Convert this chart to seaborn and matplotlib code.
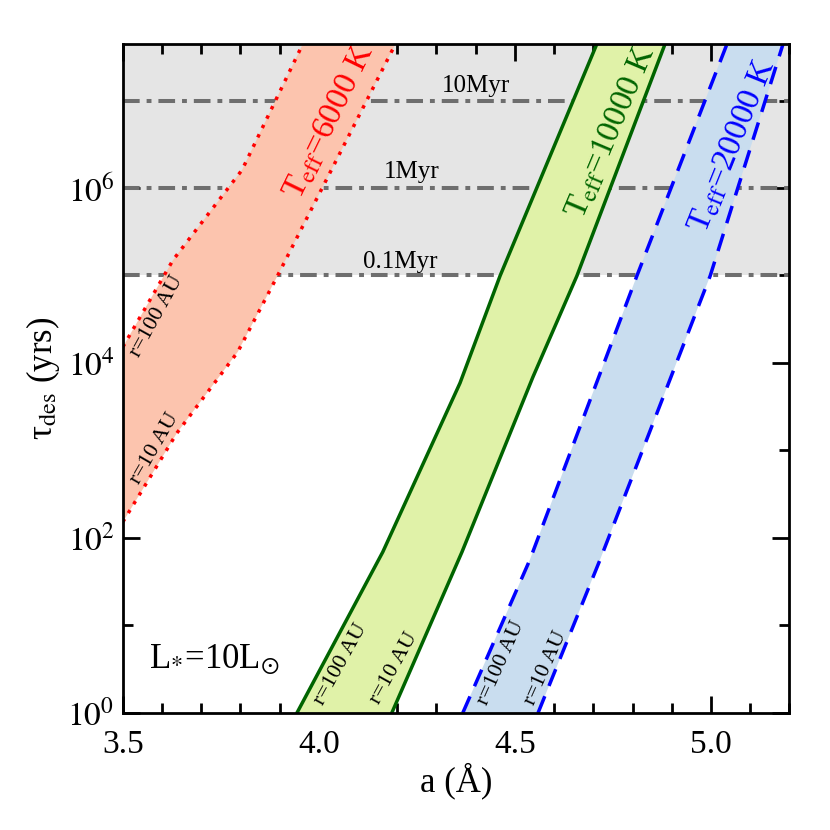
#%% IMPORTS
import numpy as np
import pandas as pd
import seaborn as sns
import matplotlib
matplotlib.use("Agg")
from matplotlib import pyplot as plt
from matplotlib.ticker import FixedLocator, NullFormatter

#%% DATA
# boundaries of each band: lattice constant a (Angstrom) vs log10(tau_des / yr)
red_r100_a   = [3.500, 3.628, 3.804, 3.959]
red_r100_lt  = [4.183, 5.177, 6.206, 7.646]
red_r10_a    = [3.500, 3.638, 3.793, 3.893, 4.194]
red_r10_lt   = [2.183, 3.200, 4.126, 4.983, 7.634]

green_r100_a  = [3.944, 4.163, 4.360, 4.462, 4.709]
green_r100_lt = [0.000, 1.840, 3.771, 4.994, 7.646]
green_r10_a   = [4.186, 4.365, 4.546, 4.658, 4.883]
green_r10_lt  = [0.000, 1.840, 3.840, 4.994, 7.646]

blue_r100_a  = [4.367, 4.538, 4.811, 5.041]
blue_r100_lt = [0.000, 1.749, 4.994, 7.646]
blue_r10_a   = [4.559, 4.717, 4.998, 5.184]
blue_r10_lt  = [0.000, 1.749, 4.994, 7.646]

age_lines  = [1e5, 1e6, 1e7]
age_labels = ["0.1Myr", "1Myr", "10Myr"]

x_ticks = [3.5, 4.0, 4.5, 5.0]
x_tick_labels = ["3.5", "4.0", "4.5", "5.0"]
y_major = [1e0, 1e2, 1e4, 1e6]
y_major_labels = [r"$10^0$", r"$10^2$", r"$10^4$", r"$10^6$"]
y_minor = [1e1, 1e3, 1e5, 1e7]

#%% CONFIGURATION
sns.set_theme(style="ticks")
plt.rcParams["font.family"] = ["Liberation Serif", "DejaVu Serif"]
plt.rcParams["mathtext.fontset"] = "stix"
plt.rcParams["lines.scale_dashes"] = False
for key in ("text.color", "axes.labelcolor", "xtick.color", "ytick.color", "axes.edgecolor"):
    plt.rcParams[key] = "black"

YMAX = 10 ** 7.646


def band_frame(a, lt):
    return pd.DataFrame({"a": a, "tau": 10 ** np.asarray(lt)})


def draw_band(ax, left, right, fill, color, lw, dashes=None):
    xs = list(left["a"]) + list(right["a"][::-1])
    ys = list(left["tau"]) + list(right["tau"][::-1])
    ax.fill(xs, ys, color=fill, lw=0, zorder=2)
    for df in (left, right):
        sns.lineplot(data=df, x="a", y="tau", ax=ax, sort=False, estimator=None,
                     color=color, lw=lw, zorder=3, legend=False)
        l = ax.lines[-1]
        if dashes is not None:
            l.set_dashes(dashes)
            l.set_dash_capstyle("butt")


#%% MAIN CODE
fig = plt.figure(figsize=(8.3, 8.3), dpi=100)
ax = fig.add_axes([0.148, 0.141, 0.803, 0.806])

ax.set_yscale("log")

# grey region above 0.1 Myr
ax.axhspan(1e5, YMAX, color="#e5e5e5", lw=0, zorder=0)
for yv in age_lines:
    ax.axhline(yv, color="#6e6e6e", lw=2.9, dashes=[12, 5, 3.5, 5], zorder=1)

red_l = band_frame(red_r100_a, red_r100_lt)
red_r = band_frame(red_r10_a, red_r10_lt)
green_l = band_frame(green_r100_a, green_r100_lt)
green_r = band_frame(green_r10_a, green_r10_lt)
blue_l = band_frame(blue_r100_a, blue_r100_lt)
blue_r = band_frame(blue_r10_a, blue_r10_lt)

draw_band(ax, red_l, red_r, "#fcc4ae", "red", 2.5, dashes=[2.5, 5.0])
draw_band(ax, green_l, green_r, "#e0f2a8", "#006400", 2.5)
draw_band(ax, blue_l, blue_r, "#c9ddef", "blue", 2.5, dashes=[13, 8])

ax.set_xlim(3.5, 5.2)
ax.set_ylim(1, YMAX)

# age labels
ax.text(4.207, 10 ** 5.154, age_labels[0], fontsize=18, ha="center", va="center", zorder=5)
ax.text(4.237, 10 ** 6.183, age_labels[1], fontsize=18, ha="center", va="center", zorder=5)
ax.text(4.400, 10 ** 7.166, age_labels[2], fontsize=18, ha="center", va="center", zorder=5)

# band labels
tkw = dict(ha="center", va="center", rotation_mode="anchor", zorder=5)
ax.text(4.028, 10 ** 6.754, r"T$_{\rm eff}$=6000 K", color="red", fontsize=24, rotation=64, **tkw)
ax.text(4.747, 10 ** 6.640, r"T$_{\rm eff}$=10000 K", color="#006400", fontsize=24, rotation=67, **tkw)
ax.text(5.056, 10 ** 6.480, r"T$_{\rm eff}$=20000 K", color="blue", fontsize=24, rotation=68, **tkw)

ax.text(3.587, 10 ** 4.530, "r=100 AU", fontsize=16, rotation=61, **tkw)
ax.text(3.581, 10 ** 3.020, "r=10 AU", fontsize=16, rotation=60, **tkw)
ax.text(4.056, 10 ** 0.560, "r=100 AU", fontsize=16, rotation=61, **tkw)
ax.text(4.191, 10 ** 0.510, "r=10 AU", fontsize=16, rotation=61, **tkw)
ax.text(4.464, 10 ** 0.570, "r=100 AU", fontsize=16, rotation=66, **tkw)
ax.text(4.579, 10 ** 0.510, "r=10 AU", fontsize=16, rotation=66, **tkw)

ax.text(0.04, 0.08, r"L$_{*}$=10L$_{\odot}$", transform=ax.transAxes,
        fontsize=25, ha="left", va="center", zorder=5)

# ticks
ax.set_xticks(x_ticks)
ax.set_xticklabels(x_tick_labels)
ax.xaxis.set_minor_locator(FixedLocator(np.round(np.arange(3.5, 5.21, 0.1), 2)))
ax.yaxis.set_major_locator(FixedLocator(y_major))
ax.set_yticklabels(y_major_labels)
ax.yaxis.set_minor_locator(FixedLocator(y_minor))
ax.yaxis.set_minor_formatter(NullFormatter())

ax.tick_params(which="both", direction="in", top=True, right=True, width=2, colors="black")
ax.tick_params(which="major", length=12)
ax.tick_params(which="minor", length=7)
ax.tick_params(axis="x", which="major", pad=12, labelsize=24)
ax.tick_params(axis="y", which="major", pad=6, labelsize=24)
for sp in ax.spines.values():
    sp.set_linewidth(2)
    sp.set_color("black")
    sp.set_zorder(6)

ax.set_xlabel("a (Å)", fontsize=25, labelpad=2)
ax.set_ylabel(r"τ$_{\rm des}$ (yrs)", fontsize=25, labelpad=4)

fig.savefig("out.png", dpi=100, facecolor="white")
